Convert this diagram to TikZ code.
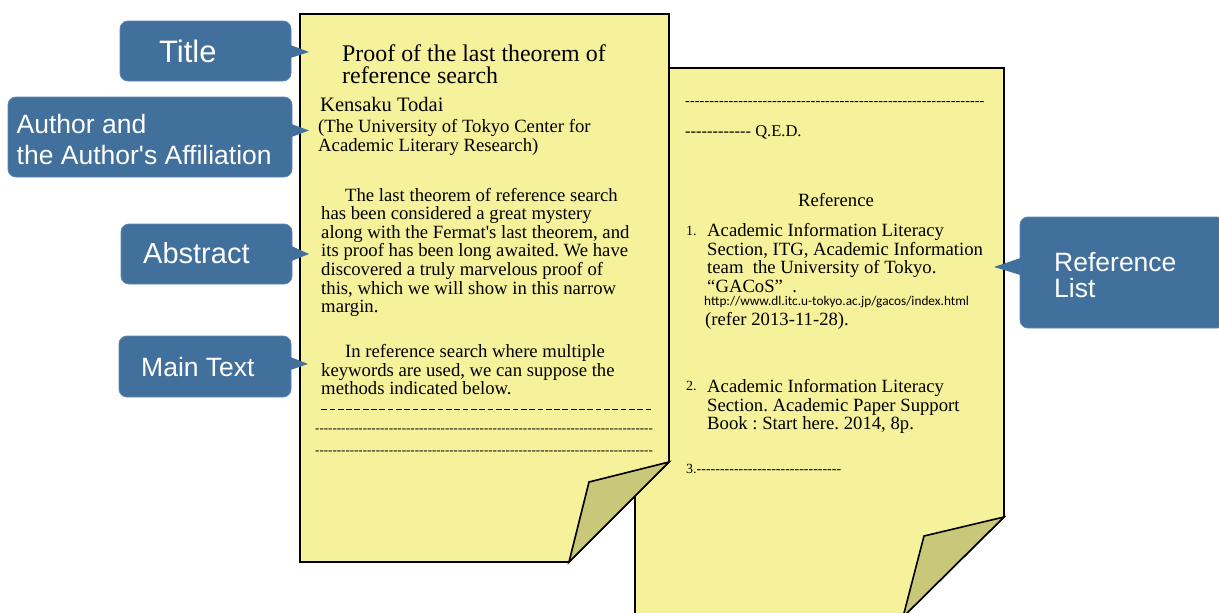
\documentclass[tikz,border=0pt]{standalone}
\usepackage{fontspec}
\setmainfont{Liberation Serif}[Ligatures=TeXOff]
\setsansfont{Liberation Sans}[Ligatures=TeXOff]
\newfontfamily\urlfont{Carlito}
\definecolor{callblue}{RGB}{65,112,156}
\definecolor{callrim}{RGB}{92,134,176}
\definecolor{paper}{RGB}{246,241,155}
\definecolor{foldc}{RGB}{200,199,122}
\newcommand{\hyph}[1]{\foreach \i in {1,...,#1}{-\kern0pt}}
\newcommand{\longdashes}[1]{\foreach \i in {1,...,#1}{\rule[0.24em]{0.44em}{0.07em}\kern0.2em}}
\frenchspacing
\begin{document}
\begin{tikzpicture}[x=1pt,y=-1pt,
  pagefill/.style={fill=paper, draw=black, line width=1.6pt, line join=miter},
  foldstyle/.style={fill=foldc, draw=black, line width=1.6pt, line join=miter},
  callbox/.style={fill=callblue, draw=callrim, line width=0.8pt, rounded corners=8pt, inner sep=0pt},
  ptr/.style={fill=callblue},
  ctext/.style={anchor=base west, inner sep=0pt, text=white, font=\sffamily\fontsize{26.5}{26.5}\selectfont},
  body/.style={anchor=base west, inner sep=0pt, font=\fontsize{18.7}{18.7}\selectfont},
  ttl/.style={anchor=base west, inner sep=0pt, font=\fontsize{23.9}{23.9}\selectfont},
  small/.style={anchor=base west, inner sep=0pt, font=\fontsize{14}{14}\selectfont}
]
\useasboundingbox (0,0) rectangle (1219,613);

% ---------- page 2 (behind) ----------
\draw[pagefill] (635,68) -- (1004,68) -- (1004,517) -- (903,617) -- (635,617) -- cycle;
\draw[foldstyle] (1004,517) -- (924,536) -- (903,617) -- cycle;

% ---------- page 1 ----------
\draw[pagefill] (300,14) -- (669,14) -- (669,462) -- (569,562) -- (300,562) -- cycle;
\draw[foldstyle] (669,462) -- (589,482) -- (569,562) -- cycle;

% ---------- page 1 text ----------
\node[ttl] (t1) at (342,61.5) {Proof of the last theorem of};
\node[ttl] (t2) at (342,83.5) {reference search};
\node[anchor=base west, inner sep=0pt, font=\fontsize{20.5}{20.5}\selectfont] (au) at (320,111.7) {Kensaku Todai};
\node[body] (af1) at (318,132.7) {(The University of Tokyo Center for};
\node[body] (af2) at (318,151.7) {Academic Literary Research)};

\node[body] (a1) at (345,201) {The last theorem of reference search};
\node[body] (a2) at (321,219.6) {has been considered a great mystery};
\node[body] (a3) at (321,238.2) {along with the Fermat's last theorem, and};
\node[body] (a4) at (321,256.8) {its proof has been long awaited. We have};
\node[body] (a5) at (321,275.4) {discovered a truly marvelous proof of};
\node[body] (a6) at (321,294.0) {this, which we will show in this narrow};
\node[body] (a7) at (321,312.6) {margin.};

\node[body] (m1) at (345,357.3) {In reference search where multiple};
\node[body] (m2) at (321,376) {keywords are used, we can suppose the};
\node[body] (m3) at (321,394.6) {methods indicated below.};

\node[anchor=base west, inner sep=0pt, font=\fontsize{13}{13}\selectfont] (d1) at (321,413) {\longdashes{40}};
\node[anchor=base west, inner sep=0pt, font=\fontsize{13}{13}\selectfont] (d2) at (315,432) {\hyph{78}};
\node[anchor=base west, inner sep=0pt, font=\fontsize{13}{13}\selectfont] (d3) at (315,454) {\hyph{78}};

% ---------- page 2 text ----------
\node[anchor=base west, inner sep=0pt, font=\fontsize{14.5}{14.5}\selectfont] (p2d) at (685,105.5) {\hyph{62}};
\node[anchor=base west, inner sep=0pt, font=\fontsize{16.5}{16.5}\selectfont] (qed) at (685,136.7) {\hyph{12} Q.E.D.};

\node[anchor=base, inner sep=0pt, font=\fontsize{18.7}{18.7}\selectfont] (refh) at (836,206.7) {Reference};

\node[small] (n1) at (686,235) {1.};
\node[body] (r11) at (707,236.7) {Academic Information Literacy};
\node[body] (r12) at (707,255) {Section, ITG, Academic Information};
\node[body] (r13) at (707,273.3) {team\ \ the University of Tokyo.};
\node[body] (r14) at (707,292.3) {“GACoS”\ \ .};
\node[anchor=base west, inner sep=0pt, font=\urlfont\fontsize{13.3}{13.3}\selectfont] (url) at (704,305) {http://www.dl.itc.u-tokyo.ac.jp/gacos/index.html};
\node[body] (r15) at (705,325.7) {(refer 2013-11-28).};

\node[small] (n2) at (686,390) {2.};
\node[body] (r21) at (707,392.7) {Academic Information Literacy};
\node[body] (r22) at (707,411) {Section. Academic Paper Support};
\node[body] (r23) at (707,429.3) {Book : Start here. 2014, 8p.};

\node[small] (n3) at (686,473) {3.\hyph{31}};

% ---------- callouts ----------
\node[callbox, minimum width=171pt, minimum height=60pt] (ctitle) at (205.5,51) {};
\coordinate (tipT) at (309,52);
\fill[ptr] ([xshift=-1pt,yshift=6pt]ctitle.east) -- (tipT) -- ([xshift=-1pt,yshift=-7pt]ctitle.east) -- cycle;
\node[ctext, font=\sffamily\fontsize{31}{31}\selectfont] (ltitle) at (159,62) {Title};

\node[callbox, minimum width=284pt, minimum height=80pt] (cauthor) at (150,137) {};
\coordinate (tipA) at (309,130.5);
\fill[ptr] ([xshift=-1pt,yshift=13pt]cauthor.east) -- (tipA) -- ([xshift=-1pt,yshift=0pt]cauthor.east) -- cycle;
\node[ctext] (lauth1) at (16.5,133) {Author and};
\node[ctext] (lauth2) at (16.5,164.3) {the Author's Affiliation};

\node[callbox, minimum width=171pt, minimum height=60pt] (cabs) at (206.5,254) {};
\coordinate (tipB) at (309,254);
\fill[ptr] ([xshift=-1pt,yshift=8pt]cabs.east) -- (tipB) -- ([xshift=-1pt,yshift=-7pt]cabs.east) -- cycle;
\node[ctext, font=\sffamily\fontsize{29}{29}\selectfont] (labs) at (143,263) {Abstract};

\node[callbox, minimum width=172pt, minimum height=61pt] (cmain) at (205,366.5) {};
\coordinate (tipM) at (308,364);
\fill[ptr] ([xshift=-1pt,yshift=9.5pt]cmain.east) -- (tipM) -- ([xshift=-1pt,yshift=-3.5pt]cmain.east) -- cycle;
\node[ctext] (lmain) at (141,376) {Main Text};

\node[callbox, minimum width=205pt, minimum height=111pt] (cref) at (1122.5,272.5) {};
\coordinate (tipR) at (994,267);
\fill[ptr] ([xshift=1pt,yshift=14.5pt]cref.west) -- (tipR) -- ([xshift=1pt,yshift=-2.5pt]cref.west) -- cycle;
\node[ctext] (lref1) at (1054,271) {Reference};
\node[ctext] (lref2) at (1054,297.3) {List};
\end{tikzpicture}
\end{document}
